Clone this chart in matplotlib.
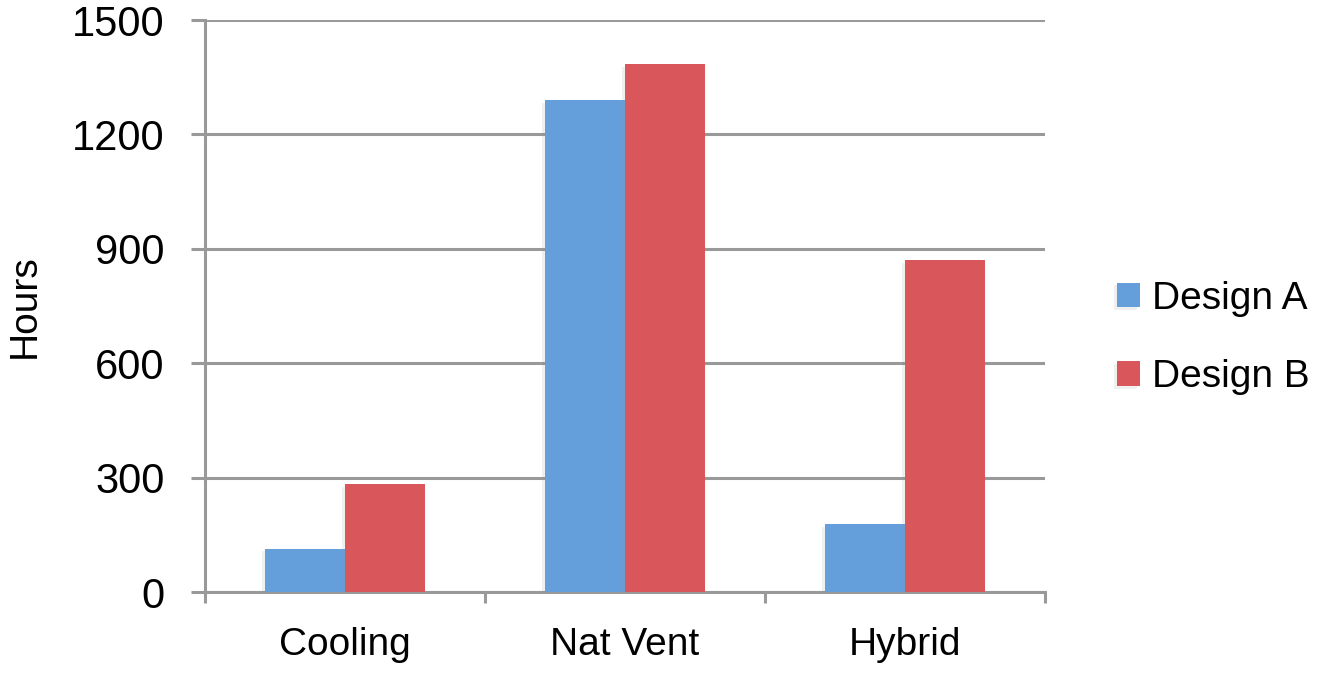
import matplotlib.pyplot as plt
import matplotlib.patheffects as pe
import numpy as np

categories = ["Cooling", "Nat Vent", "Hybrid"]
design_a = [114, 1290, 178]
design_b = [282, 1384, 870]
series_names = ["Design A", "Design B"]
y_ticks = [0, 300, 600, 900, 1200, 1500]

blue = "#659FDB"
red = "#D9575B"
grey = "#999999"
font = "Liberation Sans"

fig = plt.figure(figsize=(13.17, 6.73), dpi=100)
ax = fig.add_axes([205 / 1317, 1 - 592 / 673, 840 / 1317, 572 / 673])

x = np.arange(len(categories))
w = 80 / 280
shadow = [pe.SimplePatchShadow(offset=(-2, -2), shadow_rgbFace="#888888", alpha=0.12), pe.Normal()]
ba = ax.bar(x - w / 2, design_a, w, color=blue, label=series_names[0], zorder=3)
bb = ax.bar(x + w / 2, design_b, w, color=red, label=series_names[1], zorder=3)
for p in list(ba) + list(bb):
    p.set_path_effects(shadow)

ax.set_xlim(-0.5, len(categories) - 0.5)
ax.set_ylim(0, 1500)
ax.set_yticks(y_ticks)
ax.set_yticklabels([str(v) for v in y_ticks], fontsize=30, family=font)
ax.tick_params(axis="y", length=10, width=2.2, color=grey, pad=19)

# category labels sit between the boundary ticks
ax.set_xticks(x)
ax.set_xticklabels(categories, fontsize=28, family=font)
ax.tick_params(axis="x", length=0, pad=25)
ax.set_xticks(np.arange(len(categories) + 1) - 0.5, minor=True)
ax.tick_params(axis="x", which="minor", length=8, width=2.2, color=grey)

ax.yaxis.grid(True, color=grey, linewidth=2.2, zorder=0)
for s in ["top", "right"]:
    ax.spines[s].set_visible(False)
for s in ["left", "bottom"]:
    ax.spines[s].set_color(grey)
    ax.spines[s].set_linewidth(2.2)

ax.set_ylabel("Hours", fontsize=28, family=font, labelpad=21)

fig.legend(loc="center left", bbox_to_anchor=(1101 / 1317, 1 - 338 / 673),
           frameon=False, handlelength=0.6, handleheight=0.6,
           handletextpad=0.3, labelspacing=1.1, borderaxespad=0,
           prop={"family": font, "size": 28})

fig.savefig("out.png", dpi=100)
